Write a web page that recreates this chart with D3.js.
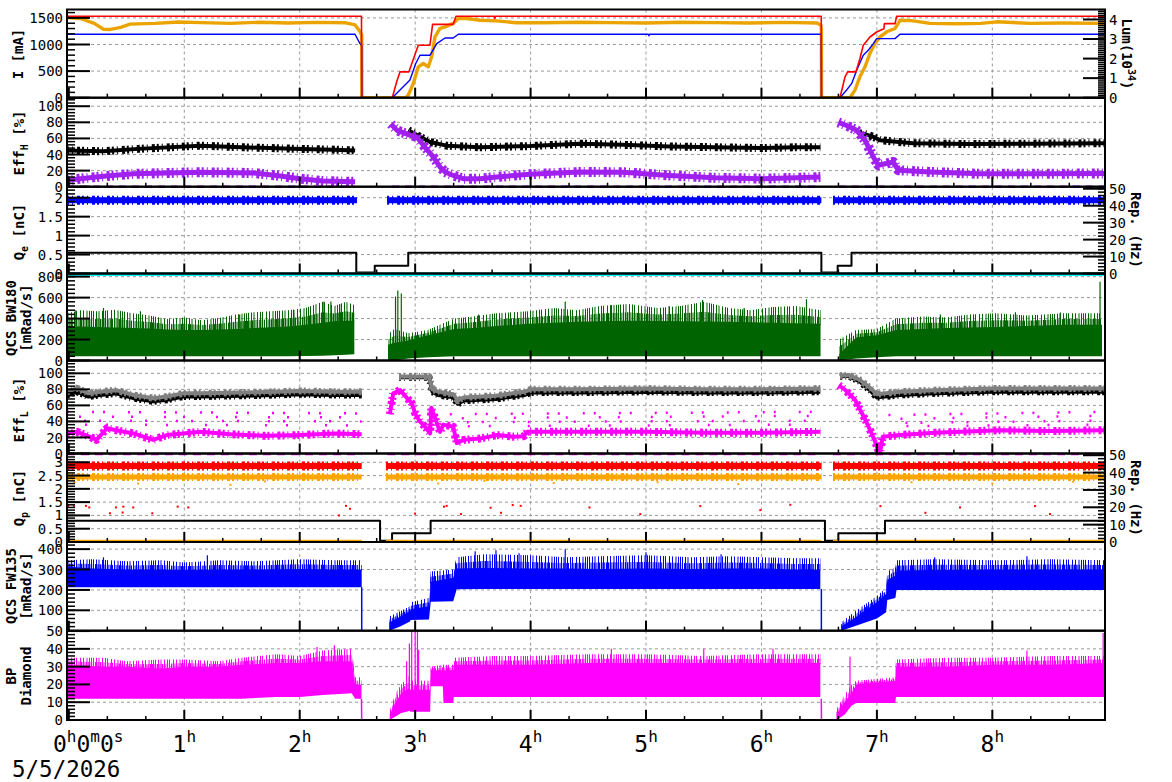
<!DOCTYPE html>
<html>
<head>
<meta charset="utf-8">
<script src="https://cdn.jsdelivr.net/npm/d3@7"></script>
<style>
  body { margin: 0; background: #fff; }
  svg { display: block; font-family: "DejaVu Sans Mono", monospace; }
</style>
</head>
<body>
<script>
// ---------------------------------------------------------------
// data, time in hours after 0h0m0s (5/5/2026)
// ---------------------------------------------------------------
var hours = [0, 1, 2, 3, 4, 5, 6, 7, 8];

// panel 1 : ring currents [mA] and luminosity [1e34]
var curLER = [[-0.016,1530],[2.535,1530],[2.537,0],[2.802,0],[2.84,300],[2.869,486],[2.946,486],[3.027,986],[3.128,986],[3.151,1379],[3.330,1379],[3.354,1530],[3.685,1530],[3.69,1490],[3.695,1530],[6.518,1530],[6.520,0],[6.680,0],[6.724,393],[6.747,486],[6.819,486],[6.853,737],[6.882,986],[6.940,1141],[6.998,1235],[7.061,1298],[7.065,1392],[7.157,1392],[7.171,1530],[8.976,1530]];
var curHER = [[-0.016,1192],[2.479,1192],[2.522,1017],[2.537,980],[2.538,0],[2.802,0],[2.955,331],[3.005,643],[3.042,799],[3.129,799],[3.187,1017],[3.259,1122],[3.330,1122],[3.374,1192],[5.02,1192],[5.025,1165],[5.03,1192],[6.518,1192],[6.520,0],[6.680,0],[6.738,144],[6.782,269],[6.825,518],[6.882,799],[6.925,892],[6.969,1017],[6.998,1111],[7.157,1111],[7.200,1192],[8.976,1192]];
var lumi = [[-0.016,4.10],[0.10,4.05],[0.22,3.80],[0.30,3.50],[0.36,3.49],[0.45,3.60],[0.53,3.76],[0.75,3.80],[0.95,3.87],[1.15,3.84],[1.40,3.80],[1.65,3.86],[1.90,3.82],[2.15,3.85],[2.40,3.83],[2.48,3.72],[2.52,3.40],[2.537,3.20],[2.538,0],[2.92,0],[2.941,0.14],[2.984,0.73],[3.027,1.58],[3.071,1.75],[3.114,1.58],[3.143,2.09],[3.172,3.11],[3.215,3.54],[3.259,3.62],[3.330,3.80],[3.374,4.05],[3.45,4.05],[3.562,3.96],[3.706,3.93],[3.880,3.83],[4.10,3.83],[4.43,3.86],[4.70,3.84],[5.00,3.82],[5.30,3.86],[5.60,3.84],[5.90,3.82],[6.20,3.85],[6.48,3.82],[6.515,3.70],[6.519,3.50],[6.520,0],[6.767,0],[6.810,0.39],[6.853,1.07],[6.897,1.58],[6.940,2.27],[6.984,2.78],[7.027,3.11],[7.085,3.37],[7.157,3.54],[7.200,3.96],[7.30,3.94],[7.46,3.80],[7.70,3.78],[7.90,3.80],[8.04,3.88],[8.33,3.80],[8.60,3.82],[8.976,3.80]];

// panel 2 : injection efficiency HER [%]
var effHBlack = [[-0.016,45],[0.3,44],[0.6,47],[1.14,51],[1.5,49],[2.0,47],[2.3,46],[2.48,45],null,[2.941,70],[3.042,62],[3.129,55.5],[3.273,51],[3.562,49],[3.995,50.5],[4.428,53.5],[4.8,52],[5.2,50],[5.6,49],[6.0,48],[6.3,49],[6.51,49],null,[6.853,66],[6.882,66],[6.969,62],[7.027,57.8],[7.313,54],[7.8,53],[8.327,53.5],[8.976,54]];
var effHPurple = [[-0.016,8],[0.1,10],[0.3,13],[0.56,16],[1.14,18],[1.6,17],[1.8,14],[2.0,10],[2.2,7],[2.48,6],null,[2.79,78],[2.843,70],[2.955,64],[3.013,62],[3.085,49],[3.157,37],[3.215,24.5],[3.259,18.3],[3.330,14],[3.417,10],[3.562,10],[3.706,12],[3.995,15.5],[4.428,18.3],[4.8,18],[5.2,14],[5.6,11],[6.0,10],[6.3,11],[6.51,12],null,[6.666,80],[6.738,76],[6.825,70],[6.897,57.6],[6.969,37],[7.012,26.6],[7.142,30.7],[7.185,20.4],[7.460,18.3],[7.893,16],[8.327,16],[8.976,16.4]];
var effHZero = [[-0.016,0],[2.48,0],null,[2.80,0],[6.51,0],null,[6.67,0],[8.976,0]];

// panel 3 : electron bunch charge [nC], repetition [Hz]
var qeBlue = [[-0.016,1.93],[2.496,1.93],null,[2.757,1.93],[6.519,1.93],null,[6.62,1.93],[8.976,1.93]];
var repE = [[-0.016,12.3],[2.49,12.3],[2.49,0.6],[2.65,0.6],[2.65,4.5],[2.94,4.5],[2.94,12.3],[6.519,12.3],[6.519,0.6],[6.66,0.6],[6.66,4.5],[6.78,4.5],[6.78,12.3],[8.976,12.3]];
var repECyan = [[-0.016,-0.5],[8.976,-0.5]];

// panel 4 : QCS BW180 dose rate [mRad/s]  [t, low, dense top, spike top]
var bw180 = [[-0.016,40,330,450],[0.1,40,325,480],[0.25,40,320,470],[0.4,40,315,485],[0.55,40,310,450],[0.7,40,305,430],[0.85,40,295,395],[1.0,40,290,410],[1.15,40,292,385],[1.3,40,295,405],[1.45,40,300,440],[1.6,40,310,460],[1.75,40,318,470],[1.9,40,325,480],[2.05,42,340,500],[2.2,45,360,560],[2.3,50,375,520],[2.4,55,380,560],[2.473,60,380,530],null,
  [2.765,0,150,250],[2.82,0,170,300],[2.94,20,190,260],[3.11,30,240,290],[3.34,40,300,400],[3.5,40,310,420],[3.7,40,330,450],[3.98,40,350,470],[4.2,40,360,500],[4.4,40,370,480],[4.6,40,375,520],[4.85,40,380,540],[5.1,40,378,500],[5.3,40,375,520],[5.5,40,372,560],[5.72,40,370,500],[5.9,40,365,480],[6.1,40,360,510],[6.3,40,355,520],[6.512,40,350,480],null,
  [6.673,0,60,200],[6.82,20,220,290],[7.0,30,240,300],[7.166,40,290,400],[7.4,40,300,420],[7.6,40,310,410],[7.8,40,315,440],[8.035,40,320,450],[8.3,40,330,430],[8.62,40,340,450],[8.95,40,340,450]];
var bw180Spikes = [[0.06,480],[0.3,500],[0.62,470],[1.48,440],[1.95,480],[2.21,562],[2.27,562],[2.36,540],[2.83,610],[2.85,667],[2.88,640],[3.55,440],[4.30,562],[4.7,530],[5.2,520],[5.49,578],[5.85,500],[6.39,585],[7.55,440],[8.2,460],[8.59,457],[8.933,752]];

// panel 5 : injection efficiency LER [%]
var effLGray = [[-0.016,77],[0.07,81.5],[0.17,75],[0.27,77],[0.41,79],[0.56,73],[0.73,69],[0.85,71],[0.99,75],[1.14,75],[1.5,76],[1.8,77],[2.0,78],[2.3,77],[2.537,77],null,[2.86,96],[3.12,96],[3.15,80],[3.20,77],[3.33,74],[3.37,66],[3.42,70],[3.70,72],[3.88,76],[3.95,77],[4.0,80],[4.43,80],[5.0,81],[5.5,80],[6.0,80],[6.51,81],null,[6.68,97],[6.75,98],[6.85,92],[6.94,82],[7.0,74],[7.2,77],[7.5,79],[8.0,81],[8.5,81],[8.976,81]];
var effLBlack = [[-0.016,73],[0.07,77],[0.17,71],[0.27,73],[0.41,75],[0.56,69],[0.73,65],[0.85,67],[0.99,71],[1.14,71],[1.5,72],[1.8,73],[2.0,74],[2.3,73],[2.537,73],null,[2.86,95],[3.12,95],[3.15,77],[3.20,73],[3.33,70],[3.37,62],[3.42,66],[3.70,68],[3.88,72],[3.95,73],[4.0,76],[4.43,76],[5.0,77],[5.5,76],[6.0,76],[6.51,77],null,[6.68,96],[6.75,97],[6.85,90],[6.94,79],[7.0,70],[7.2,73],[7.5,75],[8.0,77],[8.5,77],[8.976,77]];
var effLMag = [[-0.016,25],[0.07,27],[0.18,21],[0.24,17],[0.33,31.5],[0.41,29],[0.56,25],[0.73,17],[0.85,23],[0.99,25],[1.14,27],[1.4,24],[1.7,22],[2.0,23],[2.3,25],[2.537,24],null,[2.78,49],[2.81,75],[2.87,79],[2.93,69],[2.97,63],[3.0,50],[3.04,40],[3.085,33.5],[3.13,25],[3.14,57],[3.215,27],[3.244,36],[3.33,33.5],[3.36,13],[3.42,17],[3.56,18.6],[3.71,23],[3.85,21],[3.94,21.5],[3.97,27],[4.43,27],[5.0,27],[5.5,26],[6.0,26],[6.51,27],null,[6.67,85],[6.72,80],[6.81,67],[6.90,42],[6.97,20],[7.01,5],[7.03,3],[7.05,21],[7.2,23],[7.5,26],[8.07,29],[8.5,28],[8.976,29]];
// sparse magenta points above the main LER band, four loose rows
var effLScat = [
  [[-0.016,52],[2.537,50],null,[3.30,49],[6.51,52],null,[7.10,48],[8.976,52]],
  [[-0.016,46],[2.537,45],null,[3.30,44],[6.51,47],null,[7.10,43],[8.976,47]],
  [[-0.016,41],[2.537,40],null,[3.30,39],[6.51,41],null,[7.10,38],[8.976,41]],
  [[-0.016,36],[2.537,35],null,[3.30,34],[6.51,36],null,[7.10,34],[8.976,36]]
];
var effLZero = [[-0.016,-0.5],[2.537,-0.5],null,[2.76,-0.5],[6.52,-0.5],null,[6.62,-0.5],[8.976,-0.5]];

// panel 6 : positron bunch charge [nC], repetition [Hz]
var qpRed = [[-0.016,2.86],[2.537,2.86],null,[2.747,2.86],[6.519,2.86],null,[6.62,2.86],[8.976,2.86]];
var qpOrange = [[-0.016,2.45],[2.537,2.45],null,[2.747,2.45],[6.519,2.45],null,[6.62,2.45],[8.976,2.45]];
var qpOrangeLow = [[-0.016,0.03],[2.537,0.03],null,[2.747,0.03],[6.519,0.03],null,[6.62,0.03],[8.976,0.03]];
var qpRedOut = [[-0.005,1.36],[0.044,1.36],[0.148,1.36],[0.177,1.30],[0.356,1.08],[0.408,1.30],[0.472,1.33],[0.466,1.11],[0.558,1.30],[0.723,1.08],[0.943,1.33],[1.035,1.30],[2.340,1.00],[2.401,1.36],[2.435,1.25],[2.999,1.07],[3.250,1.33],[3.273,1.36],[3.397,1.05],[3.654,1.29],[3.744,1.10],[3.845,1.39],[3.914,1.36],[4.51,1.30],[4.95,1.05],[5.47,1.35],[5.99,1.20],[6.25,1.40],[7.03,1.35],[7.42,1.10],[7.72,1.30],[8.37,1.35],[8.50,1.05]];
var qpOrangeOut = [[0.05,2.25],[0.6,2.2],[1.4,2.15],[1.7,2.28],[3.2,2.2],[3.6,2.3],[4.2,2.22],[5.1,2.25],[5.8,2.18],[7.3,2.25],[8.0,2.2],[8.7,2.27]];
var repP = [[-0.016,12.3],[2.696,12.3],[2.696,0.7],[2.80,0.7],[2.80,5.0],[3.134,5.0],[3.134,12.3],[6.55,12.3],[6.55,0.7],[6.666,0.7],[6.666,5.0],[7.07,5.0],[7.07,12.3],[8.976,12.3]];

// panel 7 : QCS FW135 dose rate [mRad/s]  [t, low, dense top, spike top]
var fw135 = [[-0.016,213,315,345],[0.2,213,305,350],[0.5,213,300,340],[0.8,213,300,345],[1.0,213,298,335],[1.3,213,300,345],[1.6,213,300,340],[2.0,213,302,350],[2.3,213,300,345],[2.537,213,300,345],null,
  [2.775,0,40,70],[2.87,20,70,95],[2.955,45,95,120],[2.96,52,105,140],[3.12,55,120,160],[3.135,142,240,290],[3.33,145,260,300],[3.36,203,305,360],[3.6,205,308,375],[4.0,205,305,370],[4.3,205,305,360],[4.6,205,303,365],[5.0,205,305,370],[5.4,205,302,360],[5.7,205,305,365],[6.0,205,305,360],[6.3,205,300,355],[6.51,205,300,355],null,
  [6.69,0,20,40],[6.80,20,60,90],[6.90,40,100,130],[7.0,60,140,170],[7.08,90,180,210],[7.09,150,250,290],[7.16,160,270,310],[7.17,200,295,345],[7.5,200,298,350],[8.0,200,300,345],[8.5,200,300,350],[8.976,200,300,345]];
var fw135Zero = [[2.537,213],[2.537,0],[2.775,0],null,[6.519,205],[6.519,0],[6.69,0]];
var fw135Spikes = [[0.30,360],[1.20,370],[3.52,390],[3.70,395],[3.90,380],[4.30,400],[5.00,385],[5.65,375],[7.50,360],[8.30,365]];

// panel 8 : BP diamond  [t, low, dense top, spike top]
var bpDia = [[-0.016,12,31,35],[0.3,12,30,35],[0.5,12,30,33],[0.8,12,29,34],[1.0,12,30,34],[1.3,12,30,33],[1.5,12,31,35],[1.8,13,32,37],[2.0,13,32,36],[2.2,14,33,39],[2.45,15,33,40],[2.48,12,20,24],[2.535,12,20,24],null,
  [2.78,0,3,5],[2.83,2,10,15],[2.88,4,15,20],[2.95,5,18,25],[2.96,4.7,17,22],[3.13,4.7,17,22],[3.135,19,28,30],[3.24,19,28,31],[3.245,9.6,28,31],[3.33,9.6,28,31],[3.335,13,31,35],[3.7,13,31,36],[4.0,13,31,36],[4.5,13,32,37],[5.0,13,32,37],[5.5,13,32,36],[6.0,13,32,37],[6.51,13,32,37],null,
  [6.65,0,3,6],[6.72,3,10,14],[6.78,8,15,20],[6.82,9.6,20,22],[7.16,9.6,22,24],[7.165,13,30,34],[7.6,13,30,35],[8.0,13,31,35],[8.5,13,31,36],[8.976,13,32,36]];
var bpZero = [[2.535,12],[2.537,0],[2.78,0],null,[6.518,12],[6.52,0],[6.65,0]];
var bpSpikes = [[2.926,33],[2.95,43],[2.97,50],[3.00,50],[3.02,50],[3.03,39.5],[6.767,35.6],[8.96,48.9],[2.30,42],[2.15,41],[4.7,40],[5.50,40],[6.1,40],[8.3,39]];

// ---------------------------------------------------------------
var W = 1172, H = 782, X0 = 67, X1 = 1105;
var svg = d3.select("body").append("svg").attr("width", W).attr("height", H);
var x = d3.scaleLinear().domain([-0.016, 8.976]).range([X0, X1]);

// uneven vertical hatching used for the noisy upper fringe of the dose traces
var defs = svg.append("defs");
var sparseStripes = [0, 3, 5.5, 9, 12, 14, 18, 21, 24.5, 27, 29];
var denseStripes = [0, 1.6, 3.4, 5, 6.6, 8.5, 10, 11.8, 13.4, 15.2, 17];
[["G", "#006400"], ["B", "#0000ff"], ["M", "#ff00ff"]].forEach(function (h) {
  [["sparse", sparseStripes, 31], ["dense", denseStripes, 19]].forEach(function (k) {
    var pat = defs.append("pattern").attr("id", k[0] + h[0]).attr("patternUnits", "userSpaceOnUse")
      .attr("width", k[2]).attr("height", 10);
    k[1].forEach(function (sx) {
      pat.append("rect").attr("x", sx).attr("y", 0).attr("width", 1).attr("height", 10).attr("fill", h[1]);
    });
  });
});

var panels = [
  {top: 9.5,   bot: 97.7,  dom: [0, 1658],  major: [0, 500, 1000, 1500], minor: 100,
   right: {dom: [0, 4.51], major: [0, 1, 2, 3, 4], minor: 0.1}},
  {top: 97.7,  bot: 186.7, dom: [0, 110.6], major: [0, 20, 40, 60, 80, 100], minor: 4},
  {top: 186.7, bot: 273.5, dom: [0, 2.29],  major: [0, 0.5, 1, 1.5, 2], minor: 0.1,
   right: {dom: [0, 51.2], major: [0, 10, 20, 30, 40, 50], minor: 2}},
  {top: 273.5, bot: 360.5, dom: [0, 830],   major: [0, 200, 400, 600, 800], minor: 40},
  {top: 360.5, bot: 453.5, dom: [0, 116],   major: [0, 20, 40, 60, 80, 100], minor: 4},
  {top: 453.5, bot: 542,   dom: [0, 3.33],  major: [0, 0.5, 1, 1.5, 2, 2.5, 3], minor: 0.1,
   right: {dom: [0, 51], major: [0, 10, 20, 30, 40, 50], minor: 2}},
  {top: 542,   bot: 630.7, dom: [0, 435],   major: [100, 200, 300, 400], minor: 20},
  {top: 630.7, bot: 720,   dom: [0, 50.2],  major: [0, 10, 20, 30, 40, 50], minor: 2}
];
panels.forEach(function (p, i) {
  p.y = d3.scaleLinear().domain(p.dom).range([p.bot, p.top]);
  if (p.right) p.yr = d3.scaleLinear().domain(p.right.dom).range([p.bot, p.top]);
  svg.append("clipPath").attr("id", "clip" + i)
    .append("rect").attr("x", X0).attr("y", p.top).attr("width", X1 - X0).attr("height", p.bot - p.top);
});

// grid
panels.forEach(function (p) {
  var g = svg.append("g").attr("stroke", "#9a9a9a").attr("stroke-width", 1).attr("stroke-dasharray", "3,3");
  p.major.filter(function (v) { return v > 0 && p.y(v) > p.top + 2; }).forEach(function (v) {
    g.append("line").attr("x1", X0).attr("x2", X1).attr("y1", p.y(v)).attr("y2", p.y(v));
  });
  hours.filter(function (h) { return h > 0; }).forEach(function (h) {
    g.append("line").attr("x1", x(h)).attr("x2", x(h)).attr("y1", p.top).attr("y2", p.bot);
  });
});

// helpers
function line(ys) {
  return d3.line().defined(function (d) { return d; })
    .x(function (d) { return x(d[0]); }).y(function (d) { return ys(d[1]); });
}
function trace(g, data, ys, color, width, dash, offset) {
  var path = g.append("path").datum(data).attr("d", line(ys))
    .attr("fill", "none").attr("stroke", color).attr("stroke-width", width)
    .attr("stroke-linejoin", "round");
  if (dash) path.attr("stroke-dasharray", dash);
  if (offset) path.attr("stroke-dashoffset", offset);
  return path;
}
// scatter cloud: solid core plus a broken, slightly wider halo
function cloud(g, data, ys, color, core, halo) {
  trace(g, data, ys, color, halo, "2,3,1,4,3,2");
  trace(g, data, ys, color, core);
}
function noisy(g, data, ys, color, key, spikes) {
  var def = function (d) { return d; };
  var interp = function (t) {
    var pts = data.filter(def);
    for (var i = 1; i < pts.length; i++) {
      if (pts[i][0] >= t) {
        var a = pts[i - 1], b = pts[i], f = (t - a[0]) / (b[0] - a[0] || 1);
        return a[2] + f * (b[2] - a[2]);
      }
    }
    return pts[pts.length - 1][2];
  };
  var ax = function (d) { return x(d[0]); };
  g.append("path").datum(data)
    .attr("d", d3.area().defined(def).x(ax)
      .y0(function (d) { return ys(d[2]) + 1; }).y1(function (d) { return ys(d[3]); }))
    .attr("fill", "url(#sparse" + key + ")");
  g.append("path").datum(data)
    .attr("d", d3.area().defined(def).x(ax)
      .y0(function (d) { return ys(d[2]) + 1; }).y1(function (d) { return ys((d[2] + d[3]) / 2); }))
    .attr("fill", "url(#dense" + key + ")");
  g.append("path").datum(data)
    .attr("d", d3.area().defined(def).x(ax)
      .y0(function (d) { return ys(d[1]); }).y1(function (d) { return ys(d[2]); }))
    .attr("fill", color);
  g.selectAll(null).data(spikes).enter().append("line")
    .attr("x1", function (d) { return x(d[0]); }).attr("x2", function (d) { return x(d[0]); })
    .attr("y1", function (d) { return ys(interp(d[0])); }).attr("y2", function (d) { return ys(d[1]); })
    .attr("stroke", color).attr("stroke-width", 1.2);
}

// ---- panel contents ----
var P = panels;
var g1 = svg.append("g").attr("clip-path", "url(#clip0)");
trace(g1, lumi, P[0].yr, "#eba300", 3.4);
trace(g1, curHER, P[0].y, "#0000ff", 1.4);
trace(g1, curLER, P[0].y, "#ff0000", 1.6);

var g2 = svg.append("g").attr("clip-path", "url(#clip1)");
cloud(g2, effHBlack, P[1].y, "#000000", 4, 8);
cloud(g2, effHPurple, P[1].y, "#a020f0", 5, 10);
trace(svg, effHZero, P[1].y, "#a020f0", 2.5, "7,6");

var g3 = svg.append("g").attr("clip-path", "url(#clip2)");
cloud(g3, qeBlue, P[2].y, "#0000ff", 6, 9);
trace(g3, repE, P[2].yr, "#000000", 2);
trace(svg, repECyan, P[2].yr, "#00ffff", 3.5);

var g4 = svg.append("g").attr("clip-path", "url(#clip3)");
noisy(g4, bw180, P[3].y, "#006400", "G", bw180Spikes);

var g5 = svg.append("g").attr("clip-path", "url(#clip4)");
effLScat.forEach(function (row, i) {
  trace(g5, row, P[4].y, "#ff00ff", 2.5, ["2,23,2,9", "2,17,2,31", "2,29,2,13", "2,37,2,19"][i], i * 7);
});
cloud(g5, effLBlack, P[4].y, "#000000", 4, 7);
cloud(g5, effLGray, P[4].y, "#808080", 4, 7);
cloud(g5, effLMag, P[4].y, "#ff00ff", 4, 8);
trace(svg, effLZero, P[4].y, "#ff00ff", 2.5, "8,6");

var g6 = svg.append("g").attr("clip-path", "url(#clip5)");
cloud(g6, qpRed, P[5].y, "#ff0000", 6, 9);
cloud(g6, qpOrange, P[5].y, "#ffa500", 5, 8);
g6.selectAll(null).data(qpRedOut).enter().append("rect")
  .attr("x", function (d) { return x(d[0]) - 1; }).attr("y", function (d) { return P[5].y(d[1]) - 1; })
  .attr("width", 2).attr("height", 2).attr("fill", "#ff0000");
g6.selectAll(null).data(qpOrangeOut).enter().append("rect")
  .attr("x", function (d) { return x(d[0]) - 1; }).attr("y", function (d) { return P[5].y(d[1]) - 1; })
  .attr("width", 2).attr("height", 2).attr("fill", "#ffa500");
trace(g6, repP, P[5].yr, "#000000", 2);
trace(svg, qpOrangeLow, P[5].y, "#ffa500", 3);

var g7 = svg.append("g").attr("clip-path", "url(#clip6)");
noisy(g7, fw135, P[6].y, "#0000ff", "B", fw135Spikes);
trace(g7, fw135Zero, P[6].y, "#0000ff", 1.5);

var g8 = svg.append("g").attr("clip-path", "url(#clip7)");
noisy(g8, bpDia, P[7].y, "#ff00ff", "M", bpSpikes);
trace(g8, bpZero, P[7].y, "#ff00ff", 1.5);

// ---- frames and ticks ----
var axes = svg.append("g").attr("stroke", "#000");
panels.forEach(function (p) {
  axes.append("rect").attr("x", X0).attr("y", p.top).attr("width", X1 - X0).attr("height", p.bot - p.top)
    .attr("fill", "none").attr("stroke-width", 2);
  // time ticks at panel bottom, pointing up
  d3.range(0, 27).map(function (i) { return i / 3; }).forEach(function (t) {
    var major = Math.abs(t - Math.round(t)) < 1e-6;
    axes.append("line").attr("x1", x(t)).attr("x2", x(t)).attr("y1", p.bot).attr("y2", p.bot - (major ? 10 : 4))
      .attr("stroke-width", major ? 2 : 1.5);
  });
  ySide(p, p.y, p.major, p.minor, "left");
  if (p.right) ySide(p, p.yr, p.right.major, p.right.minor, "right");
});

function ySide(p, ys, major, minor, side) {
  var edge = side === "left" ? X0 : X1, dir = side === "left" ? 1 : -1;
  var top = ys.domain()[1];
  d3.range(0, Math.floor(top / minor + 1e-6) + 1).forEach(function (i) {
    var v = i * minor;
    axes.append("line").attr("x1", edge).attr("x2", edge + dir * (side === "left" ? 8 : 7))
      .attr("y1", ys(v)).attr("y2", ys(v)).attr("stroke-width", 1.5);
  });
  major.forEach(function (v) {
    axes.append("line").attr("x1", edge).attr("x2", edge + dir * (side === "left" ? 23 : 22))
      .attr("y1", ys(v)).attr("y2", ys(v)).attr("stroke-width", 2);
    svg.append("text").attr("x", side === "left" ? 63 : 1109).attr("y", ys(v)).attr("dy", "0.36em")
      .attr("text-anchor", side === "left" ? "end" : "start")
      .style("font-size", "14px").text(v);
  });
}

// ---- axis titles ----
function vtitle(xp, yp, rot, parts) {
  var t = svg.append("text").attr("transform", "translate(" + xp + "," + yp + ") rotate(" + rot + ")")
    .attr("text-anchor", "middle").style("font-size", "14px").style("font-weight", "bold");
  var shift = 0;
  parts.forEach(function (q) {
    var want = q.sub ? 4 : (q.sup ? -6 : 0);
    t.append("tspan").attr("dy", want - shift).style("font-size", (q.sub || q.sup) ? "10px" : "14px").text(q.t);
    shift = want;
  });
}
vtitle(23, 54, -90, [{t: "I [mA]"}]);
vtitle(24, 143, -90, [{t: "Eff"}, {t: "H", sub: true}, {t: " [%]"}]);
vtitle(24, 232, -90, [{t: "Q"}, {t: "e", sub: true}, {t: " [nC]"}]);
vtitle(16, 318, -90, [{t: "QCS BW180"}]);
vtitle(31, 318, -90, [{t: "[mRad/s]"}]);
vtitle(24, 410, -90, [{t: "Eff"}, {t: "L", sub: true}, {t: " [%]"}]);
vtitle(24, 498, -90, [{t: "Q"}, {t: "p", sub: true}, {t: " [nC]"}]);
vtitle(16, 586, -90, [{t: "QCS FW135"}]);
vtitle(31, 586, -90, [{t: "[mRad/s]"}]);
vtitle(16, 676, -90, [{t: "BP"}]);
vtitle(31, 676, -90, [{t: "Diamond"}]);
vtitle(1122, 54, 90, [{t: "Lum(10"}, {t: "34", sup: true}, {t: ")"}]);
vtitle(1131, 230, 90, [{t: "Rep. (Hz)"}]);
vtitle(1131, 498, 90, [{t: "Rep. (Hz)"}]);

// ---- time labels ----
function timeLabel(xp, anchor, parts) {
  var t = svg.append("text").attr("x", xp).attr("y", 752).attr("text-anchor", anchor);
  var shift = 0;
  parts.forEach(function (q, i) {
    var want = i % 2 ? -10 : 0;
    t.append("tspan").attr("dy", want - shift).style("font-size", i % 2 ? "16px" : "23px").text(q);
    shift = want;
  });
}
timeLabel(53, "start", ["0", "h", "0", "m", "0", "s"]);
hours.filter(function (h) { return h > 0; }).forEach(function (h) {
  timeLabel(x(h), "middle", [String(h), "h"]);
});
svg.append("text").attr("x", 12).attr("y", 777).style("font-size", "22.5px").text("5/5/2026");
</script>
</body>
</html>
